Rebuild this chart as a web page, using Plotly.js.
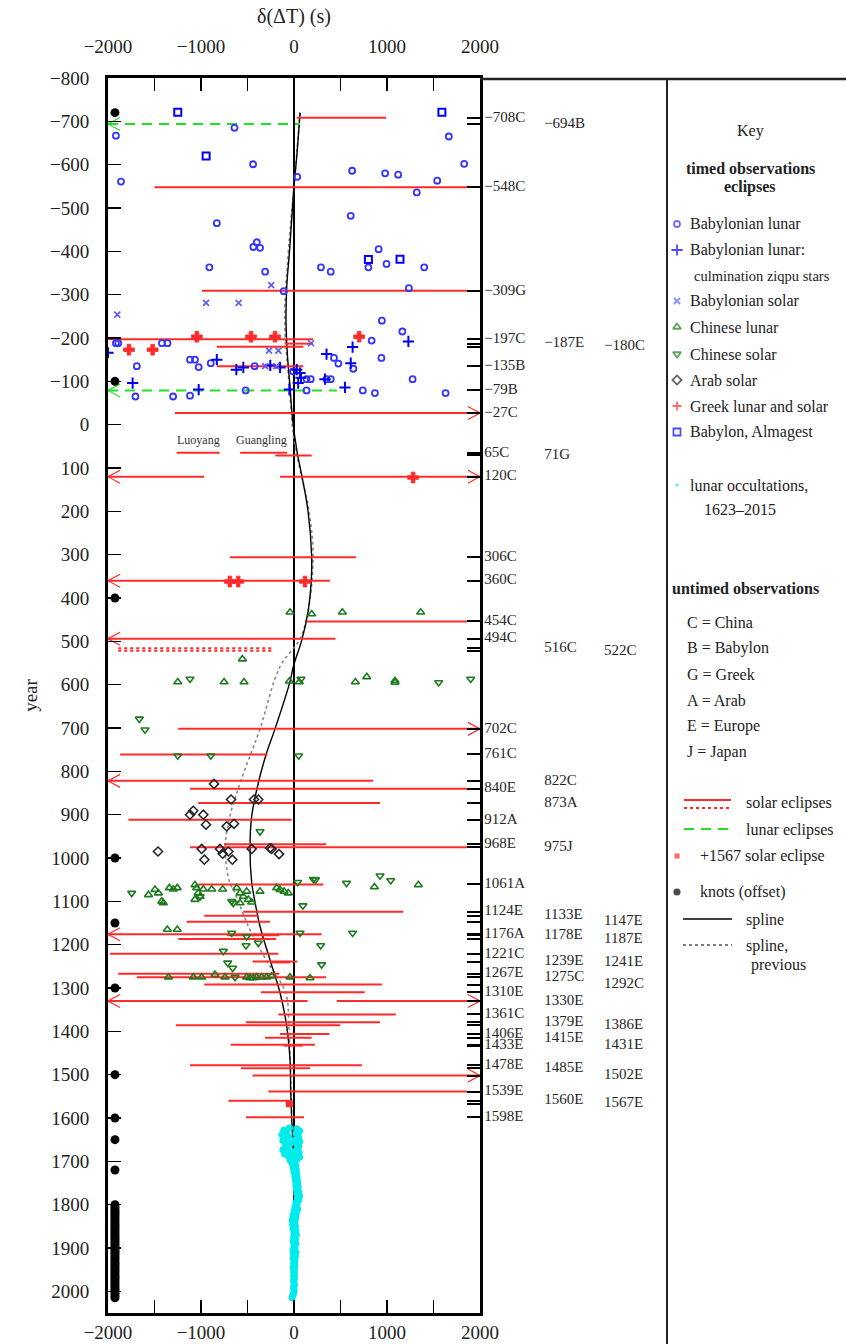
<!DOCTYPE html>
<html><head><meta charset="utf-8">
<script src="https://cdn.plot.ly/plotly-3.0.1.min.js"></script>
<style>html,body{margin:0;padding:0;background:#fff}</style>
</head><body>
<div id="chart" style="width:846px;height:1344px"></div>
<script>
const FONT = 'Liberation Serif, Times New Roman, serif';

// ---------- axis ticks ----------
const xTickVals = [-2000,-1500,-1000,-500,0,500,1000,1500,2000];
const xTickText = ['−2000','','−1000','','0','','1000','','2000'];
const yTickVals = [-800,-700,-600,-500,-400,-300,-200,-100,0,100,200,300,400,500,600,700,800,900,1000,1100,1200,1300,1400,1500,1600,1700,1800,1900,2000];
const yTickText = ['−800','−700','−600','−500','−400','−300','−200','−100','0','100','200','300','400','500','600','700','800','900','1000','1100','1200','1300','1400','1500','1600','1700','1800','1900','2000'];

// ---------- untimed observation labels ----------
const untimedYears = [-708,-694,-548,-309,-197,-187,-180,-135,-79,-27,65,71,120,306,360,454,494,516,522,702,761,822,840,873,912,968,975,1061,1124,1133,1147,1176,1178,1187,1221,1239,1241,1267,1275,1292,1310,1330,1361,1379,1386,1406,1415,1431,1433,1478,1485,1502,1539,1560,1567,1598];
const untimedLabels = ['−708C','−694B','−548C','−309G','−197C','−187E','−180C','−135B','−79B','−27C','65C','71G','120C','306C','360C','454C','494C','516C','522C','702C','761C','822C','840E','873A','912A','968E','975J','1061A','1124E','1133E','1147E','1176A','1178E','1187E','1221C','1239E','1241E','1267E','1275C','1292C','1310E','1330E','1361C','1379E','1386E','1406E','1415E','1431E','1433E','1478E','1485E','1502E','1539E','1560E','1567E','1598E'];
const untimedCol = [0,1,0,0,0,1,2,0,0,0,0,1,0,0,0,0,0,1,2,0,0,1,0,1,0,0,1,0,0,1,2,0,1,2,0,1,2,0,1,2,0,1,0,1,2,0,1,2,0,0,1,2,0,1,2,0];

// ---------- untimed solar eclipses (ranges) ----------
const solarYears = [-708,-548,-309,-197,-187,-180,-135,-27,65,65,71,120,120,306,360,454,494,702,761,822,840,873,912,968,975,1061,1124,1133,1147,1176,1178,1187,1221,1239,1241,1267,1275,1292,1310,1330,1330,1361,1379,1386,1406,1415,1431,1433,1478,1485,1502,1539,1560,1598];
const solarFrom = [30,-1500,-990,-2000,-100,-830,-830,-1280,-1260,-580,-200,-2000,-150,-690,-2000,135,-2000,-1245,-1870,-2000,-1118,-1030,-1780,-752,-1118,-1030,-545,-965,-1155,-2000,-720,-1245,-1980,-445,-240,-1890,-1690,-965,-355,-2000,460,-168,-516,-1270,-150,-312,-680,-110,-1118,-570,-445,-276,-705,-516];
const solarTo = [990,1860,1860,205,205,100,100,2000,-800,-75,190,-965,2000,665,385,1860,445,2000,-285,850,1860,925,-25,345,1860,315,1175,-384,-258,297,-157,-193,-168,35,-43,-157,345,945,760,147,2000,1095,925,495,380,190,225,90,730,172,2000,1860,-43,107];
const solarArrow = ['','','','','','','','R','','','','L','R','','L','','L','R','','L','','','','','','','','','','L','','','','','','','','','','L','R','','','','','','','','','','R','','',''];

// dotted (uncertain) solar eclipses
const dottedYears = [516,522];
const dottedFrom = [-1890,-1890];
const dottedTo = [-222,-222];

// untimed lunar eclipses
const lunarYears = [-694,-79];
const lunarFrom = [-2000,-2000];
const lunarTo = [65,460];
const lunarArrow = ['L','L'];

// ---------- timed observations ----------
const babLunarX = [-1915,-1860,-640,-440,35,625,980,1120,1540,1320,1665,1830,-830,610,-910,-437,-400,-365,-310,290,395,800,910,995,1400,1235,-110,945,1165,835,940,1275,1630,740,870,-1915,-1890,-1690,-1705,-1420,-1360,-1118,-1065,-1025,-895,-1300,-1118,-520,-423,430,477,638,350,395,135,180,135,-10];
const babLunarY = [-667,-561,-685,-601,-572,-586,-580,-577,-563,-536,-665,-602,-465,-482,-363,-410,-421,-408,-353,-363,-353,-363,-405,-371,-363,-315,-308,-240,-215,-194,-154,-105,-73,-79,-73,-188,-188,-135,-65,-188,-188,-150,-150,-133,-142,-65,-67,-79,-135,-154,-141,-129,-105,-105,-105,-105,-79,-123];

const ziqpuX = [-2000,-1735,-1025,-830,-620,-545,-255,-150,30,65,45,350,630,610,333,548,1230,-50,75];
const ziqpuY = [-166,-96,-81,-150,-127,-132,-137,-132,-127,-119,-96,-163,-179,-142,-105,-86,-192,-81,-108];

const babSolarX = [-1900,-946,-595,-245,-268,-168,-310,183,-190];
const babSolarY = [-254,-281,-281,-322,-171,-171,-135,-188,-135];

const chnLunarX = [-43,190,520,1362,-555,-1250,-752,-537,-50,57,660,782,1086,1086,1337,865,-1565,-1495,-1458,-1422,-1405,-1340,-1297,-1255,-1065,-1047,-1030,-1010,-1065,-975,-885,-767,-616,-580,-545,-509,-491,-455,-580,-365,-186,-150,-107,-61,-1362,-1255,-1350,-1083,-993,-850,-742,-509,-473,-437,-401,-348,-294,-240,-43,172];
const chnLunarY = [433,437,433,433,541,594,594,594,592,594,594,582,591,595,1062,1067,1085,1073,1081,1100,1104,1069,1072,1069,1062,1069,1081,1089,1096,1072,1072,1072,1069,1081,1089,1077,1096,1102,1104,1077,1069,1073,1077,1081,1165,1165,1275,1275,1275,1269,1275,1275,1277,1277,1275,1275,1275,1273,1275,1277];

const chnSolarX = [-1118,75,1556,1900,-1663,-1602,-1250,-895,50,-365,925,1040,565,208,230,95,-1745,40,-670,-652,-634,-670,-509,65,630,-516,-384,287,-760,297,-713,-660,-1010];
const chnSolarY = [587,587,595,587,679,704,764,764,764,939,1041,1052,1058,1049,1050,1110,1081,1056,1100,1104,1275,1173,1181,1173,1173,1202,1196,1202,1215,1246,1242,1254,1089];

const arabX = [-860,-677,-430,-384,-1118,-1083,-975,-946,-724,-645,-1462,-993,-796,-767,-706,-964,-663,-455,-258,-240,-161];
const arabY = [829,865,865,865,900,891,900,923,927,921,985,979,979,990,985,1004,1004,979,977,979,991];

const greekX = [-1775,-1520,-1045,-462,-204,700,1280,-690,-600,118];
const greekY = [-173,-173,-203,-203,-203,-203,122,362,362,362];

const almagestX = [-1250,1590,-945,800,1140];
const almagestY = [-721,-721,-620,-381,-382];

const solar1567X = [-50];
const solar1567Y = [1567];

// lunar occultations 1623-2015
const occY = [1623,1625,1628,1630,1632,1635,1638,1640,1643,1645,1648,1650,1652,1655,1658,1660,1663,1665,1668,1670,1673,1675,1678,1680,1683,1685,1688,1690,1693,1695,1698,1700,1705,1710,1715,1720,1725,1730,1735,1740,1745,1750,1755,1760,1765,1770,1775,1780,1785,1790,1795,1800,1805,1810,1815,1820,1825,1830,1835,1840,1845,1850,1855,1860,1865,1870,1875,1880,1885,1890,1895,1900,1905,1910,1915,1920,1925,1930,1935,1940,1945,1950,1955,1960,1965,1970,1975,1980,1985,1990,1995,2000,2005,2010,2015];
const occX = [-50,30,-110,60,-80,20,-130,40,-60,50,-100,10,-120,60,-40,30,-90,50,-70,40,-120,20,-30,55,-100,30,-60,60,-20,30,-40,10,-20,20,-10,25,0,30,10,35,15,40,20,45,25,50,30,60,35,50,20,30,10,40,0,25,-10,20,-20,10,-15,15,-10,20,0,25,-5,15,-10,20,0,10,-10,20,-5,15,-10,10,-5,10,-10,5,-5,5,-5,5,-5,0,5,-5,0,0,-5,-15,-20];

// spline knots (offset)
const knotY = [-720,-100,400,1000,1150,1300,1500,1600,1650,1720,1800,1805,1810,1815,1820,1825,1830,1835,1840,1845,1850,1855,1860,1865,1870,1875,1880,1885,1890,1895,1900,1905,1910,1915,1920,1925,1930,1935,1940,1945,1950,1955,1960,1965,1970,1975,1980,1985,1990,1995,2000,2005,2010,2015];
const knotX = knotY.map(() => -1925);

// spline (current) and previous
const splineY = [-720,-620,-550,-473,-396,-319,-242,-165,-88,-12,65,119,198,304,362,433,496,558,593,702,757,827,904,977,1057,1081,1158,1235,1311,1389,1466,1542,1600,1650,1700,1750,1800,1850,1900,1950,2015];
const splineX = [65,30,0,-25,-50,-78,-86,-72,-43,-15,35,85,150,190,185,150,85,-7,-43,-204,-294,-384,-455,-473,-455,-437,-365,-258,-150,-78,-43,-35,-25,-15,-5,5,15,20,5,5,0];
const prevY = [-720,-550,-400,-242,-88,35,198,304,433,496,558,702,757,827,904,981,1057,1081,1158,1235,1311,1389,1466,1542,1600];
const prevX = [65,0,-60,-100,-50,0,160,205,150,60,-150,-365,-460,-580,-690,-740,-690,-634,-490,-300,-90,-55,-40,-30,-25];

// ---------- build segment traces ----------
function segs(years, from, to) {
  const x = [], y = [];
  years.forEach((yr, i) => { x.push(from[i], to[i], null); y.push(yr, yr, null); });
  return {x, y};
}
const DX = 130, DY = 15;
function arrows(years, from, to, flags) {
  const x = [], y = [];
  years.forEach((yr, i) => {
    if (flags[i].includes('L')) { x.push(from[i] + DX, from[i], from[i] + DX, null); y.push(yr - DY, yr, yr + DY, null); }
    if (flags[i].includes('R')) { x.push(to[i] - DX, to[i], to[i] - DX, null); y.push(yr - DY, yr, yr + DY, null); }
  });
  return {x, y};
}
const RED = '#ff2b2b', GREEN = '#22e022', DGREEN = '#1e7a1e', BLUE = '#3535ff';

const sS = segs(solarYears, solarFrom, solarTo);
const sA = arrows(solarYears, solarFrom, solarTo, solarArrow);
const dS = segs(dottedYears, dottedFrom, dottedTo);
const lS = segs(lunarYears, lunarFrom, lunarTo);
const lA = arrows(lunarYears, lunarFrom, lunarTo, lunarArrow);

const traces = [
  {x: prevX, y: prevY, mode: 'lines', line: {color: '#888', width: 1.6, dash: 'dot', shape: 'spline'}, xaxis: 'x', yaxis: 'y'},
  {x: splineX, y: splineY, mode: 'lines', line: {color: '#000', width: 1.4, shape: 'spline'}},
  {x: sS.x, y: sS.y, mode: 'lines', line: {color: RED, width: 2}},
  {x: sA.x, y: sA.y, mode: 'lines', line: {color: RED, width: 1.2}},
  {x: dS.x, y: dS.y, mode: 'lines', line: {color: RED, width: 2, dash: 'dot'}},
  {x: lS.x, y: lS.y, mode: 'lines', line: {color: GREEN, width: 2, dash: '10px,7px'}},
  {x: lA.x, y: lA.y, mode: 'lines', line: {color: GREEN, width: 1.2}},
  {x: occX, y: occY, mode: 'markers', marker: {symbol: 'circle', size: 7, color: '#00ecec'}},
  {x: babLunarX, y: babLunarY, mode: 'markers', marker: {symbol: 'circle-open', size: 6, color: BLUE, line: {width: 1.8}}},
  {x: ziqpuX, y: ziqpuY, mode: 'markers', marker: {symbol: 'cross-thin-open', size: 8, color: '#0000ee', line: {width: 2}}},
  {x: babSolarX, y: babSolarY, mode: 'markers', marker: {symbol: 'x-thin-open', size: 6, color: '#5a5aff', line: {width: 1.6}}},
  {x: chnLunarX, y: chnLunarY, mode: 'markers', marker: {symbol: 'triangle-up-open', size: 7, color: DGREEN, line: {width: 1.6}}},
  {x: chnSolarX, y: chnSolarY, mode: 'markers', marker: {symbol: 'triangle-down-open', size: 7, color: DGREEN, line: {width: 1.6}}},
  {x: arabX, y: arabY, mode: 'markers', marker: {symbol: 'diamond-open', size: 7, color: '#222', line: {width: 1.5}}},
  {x: greekX, y: greekY, mode: 'markers', marker: {symbol: 'cross', size: 9, color: RED, line: {color: RED, width: 0.8}}},
  {x: almagestX, y: almagestY, mode: 'markers', marker: {symbol: 'square-open', size: 7, color: '#0000ff', line: {width: 2}}},
  {x: solar1567X, y: solar1567Y, mode: 'markers', marker: {symbol: 'square', size: 7, color: RED}, yaxis: 'y2'},
  {x: knotX, y: knotY, mode: 'markers', marker: {symbol: 'circle', size: 9, color: '#000'}, xaxis: 'x2'},
  {x: untimedCol, y: untimedYears, text: untimedLabels, mode: 'text', textposition: 'middle right',
   textfont: {family: FONT, size: 15, color: '#262626'}, xaxis: 'x3', yaxis: 'y', cliponaxis: false}
];
traces.forEach(t => { t.hoverinfo = 'skip'; t.showlegend = false; if (!t.xaxis) t.xaxis = 'x'; if (!t.yaxis) t.yaxis = 'y'; });

// ---------- key (legend) drawn in pixel coordinates ----------
const keyItems = [
  {label: 'Babylonian lunar', y: 224, symbol: 'circle-open', color: BLUE, size: 6},
  {label: 'Babylonian lunar:', y: 250, symbol: 'cross-thin-open', color: '#0000ee', size: 8},
  {label: 'Babylonian solar', y: 301, symbol: 'x-thin-open', color: '#5a5aff', size: 6},
  {label: 'Chinese lunar', y: 327, symbol: 'triangle-up-open', color: DGREEN, size: 7},
  {label: 'Chinese solar', y: 354, symbol: 'triangle-down-open', color: DGREEN, size: 7},
  {label: 'Arab solar', y: 380, symbol: 'diamond-open', color: '#222', size: 7},
  {label: 'Greek lunar and solar', y: 406, symbol: 'cross', color: RED, size: 9},
  {label: 'Babylon, Almagest', y: 432, symbol: 'square-open', color: '#0000ff', size: 7},
  {label: 'lunar occultations,', y: 485, symbol: 'circle', color: '#00ecec', size: 5},
  {label: '+1567 solar eclipse', y: 856, symbol: 'square', color: RED, size: 7},
  {label: 'knots (offset)', y: 892, symbol: 'circle', color: '#000', size: 9}
];
traces.push({
  x: keyItems.map(() => 677), y: keyItems.map(k => k.y), mode: 'markers',
  marker: {symbol: keyItems.map(k => k.symbol), color: keyItems.map(k => k.color), size: keyItems.map(k => k.size), line: {width: 1.8}},
  xaxis: 'x4', yaxis: 'y4', hoverinfo: 'skip', showlegend: false, cliponaxis: false
});

const ann = [];
function txt(x, y, text, opts) {
  ann.push(Object.assign({x: x, y: y, xref: 'x4', yref: 'y4', text: text, showarrow: false, xanchor: 'left', yanchor: 'middle',
    font: {family: FONT, size: 16, color: '#222'}}, opts || {}));
}
txt(750, 131, 'Key', {xanchor: 'center'});
txt(750, 168, '<b>timed observations</b>', {xanchor: 'center'});
txt(750, 187, '<b>eclipses</b>', {xanchor: 'center'});
keyItems.forEach(k => txt(k.label.startsWith('+') || k.label.startsWith('knots') ? 698 : 688, k.y, k.label));
txt(692, 276, 'culmination ziqpu stars', {font: {family: FONT, size: 14.5, color: '#222'}});
txt(702, 509, '1623–2015');
txt(670, 588, '<b>untimed observations</b>');
const codes = ['C = China', 'B = Babylon', 'G = Greek', 'A = Arab', 'E = Europe', 'J = Japan'];
const codeY = [622, 648, 674, 700, 726, 752];
codes.forEach((c, i) => txt(685, codeY[i], c));
txt(744, 803, 'solar eclipses');
txt(744, 830, 'lunar eclipses');
txt(744, 920, 'spline');
txt(744, 946, 'spline,');
txt(749, 965, 'previous');
// plot-area notes
ann.push({x: -1030, y: 36, xref: 'x', yref: 'y', text: 'Luoyang', showarrow: false, font: {family: FONT, size: 12, color: '#333'}});
ann.push({x: -350, y: 36, xref: 'x', yref: 'y', text: 'Guangling', showarrow: false, font: {family: FONT, size: 12, color: '#333'}});

const shapes = [
  {type: 'line', xref: 'x4', yref: 'y4', x0: 480, x1: 846, y0: 79, y1: 79, line: {color: '#222', width: 2.5}},
  {type: 'line', xref: 'x4', yref: 'y4', x0: 667, x1: 667, y0: 78, y1: 1344, line: {color: '#222', width: 2}},
  {type: 'line', xref: 'x4', yref: 'y4', x0: 684, x1: 731, y0: 800, y1: 800, line: {color: RED, width: 2}},
  {type: 'line', xref: 'x4', yref: 'y4', x0: 684, x1: 731, y0: 808, y1: 808, line: {color: RED, width: 2, dash: 'dot'}},
  {type: 'line', xref: 'x4', yref: 'y4', x0: 684, x1: 730, y0: 829, y1: 829, line: {color: GREEN, width: 2, dash: '10px,7px'}},
  {type: 'line', xref: 'x4', yref: 'y4', x0: 683, x1: 732, y0: 919, y1: 919, line: {color: '#000', width: 1.5}},
  {type: 'line', xref: 'x4', yref: 'y4', x0: 683, x1: 732, y0: 945, y1: 945, line: {color: '#555', width: 1.5, dash: 'dot'}}
];

const tickFont = {family: FONT, size: 19, color: '#222'};
const xCommon = {range: [-2000, 2000], tickvals: xTickVals, ticktext: xTickText, ticks: 'inside', ticklen: 13, tickwidth: 1.5,
  tickcolor: '#000', showline: true, linewidth: 3, linecolor: '#000', showgrid: false, tickfont: tickFont, fixedrange: true};

const layout = {
  width: 846, height: 1344, margin: {l: 0, r: 0, t: 0, b: 0},
  paper_bgcolor: '#fff', plot_bgcolor: 'rgba(0,0,0,0)', showlegend: false,
  xaxis: Object.assign({}, xCommon, {domain: [108/846, 480/846], side: 'top', anchor: 'y', ticklabelstandoff: 14,
    zeroline: true, zerolinecolor: '#000', zerolinewidth: 1.6,
    title: {text: 'δ(ΔT) (s)', font: {family: FONT, size: 20, color: '#222'}, standoff: 8}}),
  xaxis2: Object.assign({}, xCommon, {overlaying: 'x', matches: 'x', side: 'bottom', anchor: 'y', zeroline: false, ticklabelstandoff: 0}),
  xaxis3: {domain: [480/846, 667/846], range: [-0.07, 3.05], anchor: 'y', visible: false, fixedrange: true},
  xaxis4: {domain: [0, 1], range: [0, 846], anchor: 'y4', visible: false, fixedrange: true},
  yaxis: {domain: [1 - 1313/1344, 1 - 78/1344], range: [2050, -800], anchor: 'x', tickvals: yTickVals, ticktext: yTickText,
    ticks: 'inside', ticklen: 13, tickwidth: 1.5, tickcolor: '#000', showline: true, linewidth: 3, linecolor: '#000',
    showgrid: false, zeroline: false, tickfont: tickFont, ticklabelstandoff: 12, fixedrange: true,
    title: {text: 'year', font: {family: FONT, size: 19, color: '#222'}, standoff: 8}},
  yaxis2: {overlaying: 'y', matches: 'y', side: 'right', anchor: 'x', tickvals: untimedYears, ticks: 'inside', ticklen: 13,
    tickwidth: 2, tickcolor: '#000', showticklabels: false, showline: true, linewidth: 2.5, linecolor: '#000',
    showgrid: false, zeroline: false, fixedrange: true},
  yaxis4: {domain: [0, 1], range: [1344, 0], anchor: 'x4', visible: false, fixedrange: true},
  annotations: ann, shapes: shapes
};

Plotly.newPlot('chart', traces, layout, {staticPlot: true, displayModeBar: false});
</script>
</body></html>
